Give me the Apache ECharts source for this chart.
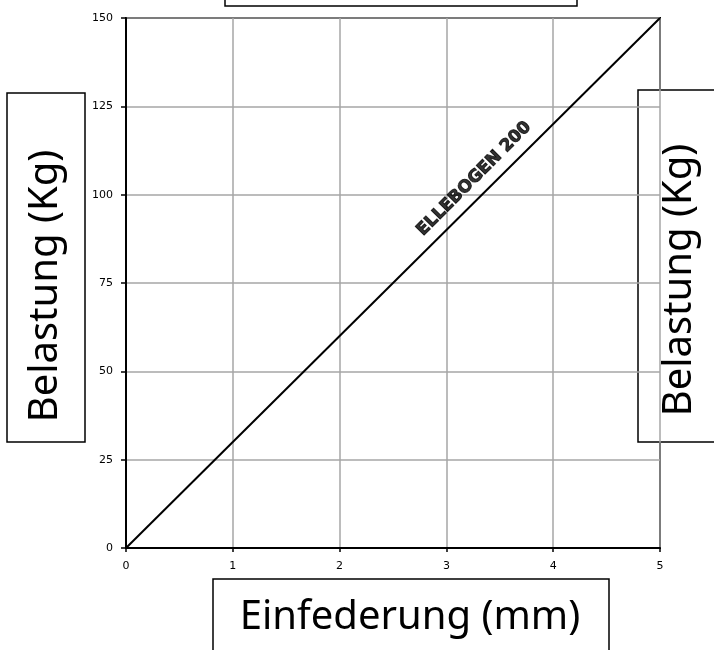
<!DOCTYPE html>
<html>
<head>
<meta charset="utf-8">
<script src="https://cdn.jsdelivr.net/npm/echarts@6/dist/echarts.min.js"></script>
<style>
html,body{margin:0;padding:0;background:#fff;}
#chart{width:714px;height:650px;}
</style>
</head>
<body>
<div id="chart"></div>
<script>
// Data
const xTicks = [0, 1, 2, 3, 4, 5];
const yTicks = [0, 25, 50, 75, 100, 125, 150];
const lineX = [0, 5];
const lineY = [0, 150];
const lineName = 'ELLEBOGEN 200';
const lineLabelPos = [3.26, 104.5];
const xTitle = 'Einfederung (mm)';
const yTitle = 'Belastung (Kg)';

const chart = echarts.init(document.getElementById('chart'), null, {renderer: 'canvas'});
const tickFont = '"DejaVu Sans", sans-serif';
const titleFont = '"Noto Sans", "Open Sans", sans-serif';

const option = {
  animation: false,
  backgroundColor: '#ffffff',
  grid: {left: 126, right: 54, top: 18, bottom: 102, show: true, borderColor: '#000', borderWidth: 2, backgroundColor: 'transparent'},
  xAxis: {
    type: 'value', min: xTicks[0], max: xTicks[xTicks.length - 1], interval: 1,
    axisLine: {lineStyle: {color: '#000', width: 2}},
    axisTick: {show: true, length: 4, lineStyle: {color: '#000', width: 1.5}},
    axisLabel: {color: '#000', fontSize: 11, fontFamily: tickFont, margin: 13},
    splitLine: {show: true, lineStyle: {color: '#a6a6a6', width: 1.5}}
  },
  yAxis: {
    type: 'value', min: yTicks[0], max: yTicks[yTicks.length - 1], interval: 25,
    axisLine: {lineStyle: {color: '#000', width: 2}},
    axisTick: {show: true, length: 5, lineStyle: {color: '#000', width: 1.5}},
    axisLabel: {color: '#000', fontSize: 11, fontFamily: tickFont, margin: 13},
    splitLine: {show: true, lineStyle: {color: '#a6a6a6', width: 1.5}}
  },
  series: [
    {
      type: 'line', data: lineX.map((x, i) => [x, lineY[i]]),
      showSymbol: false, lineStyle: {color: '#000', width: 2}, silent: true
    },
    {
      type: 'scatter', data: [lineLabelPos], symbolSize: 0, silent: true,
      label: {
        show: true, position: 'inside', rotate: 45, formatter: lineName,
        color: '#000', fontSize: 17, fontWeight: 900, fontFamily: '"DejaVu Sans", sans-serif',
        textBorderColor: '#000', textBorderWidth: 1
      }
    }
  ],
  graphic: [
    {type: 'rect', shape: {x: 225, y: -60, width: 352, height: 66}, style: {fill: '#fff', stroke: '#000', lineWidth: 1.5}},
    {type: 'rect', shape: {x: 7, y: 93, width: 78, height: 349}, style: {fill: '#fff', stroke: '#000', lineWidth: 1.5}},
    {type: 'text', x: 46, y: 286, rotation: Math.PI / 2,
      style: {text: yTitle, fontSize: 40, fontFamily: titleFont, fill: '#000', align: 'center', verticalAlign: 'middle', textAlign: 'center', textVerticalAlign: 'middle'}},
    {type: 'rect', shape: {x: 638, y: 90, width: 100, height: 352}, style: {fill: '#fff', stroke: '#000', lineWidth: 1.5}},
    {type: 'text', x: 680, y: 280, rotation: Math.PI / 2,
      style: {text: yTitle, fontSize: 40, fontFamily: titleFont, fill: '#000', align: 'center', verticalAlign: 'middle', textAlign: 'center', textVerticalAlign: 'middle'}},
    {type: 'rect', shape: {x: 213, y: 579, width: 396, height: 100}, style: {fill: '#fff', stroke: '#000', lineWidth: 1.5}},
    {type: 'text', x: 410, y: 618,
      style: {text: xTitle, fontSize: 40, fontFamily: titleFont, fill: '#000', align: 'center', verticalAlign: 'middle', textAlign: 'center', textVerticalAlign: 'middle'}}
  ]
};
chart.setOption(option);
</script>
</body>
</html>
